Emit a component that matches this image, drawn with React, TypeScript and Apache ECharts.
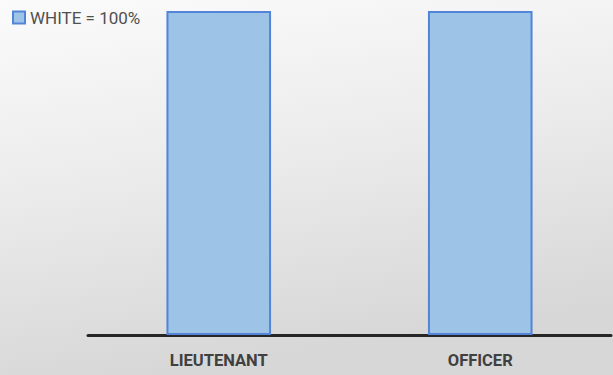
import React, { useEffect, useRef } from "react";
import * as echarts from "echarts";

const categories = ["LIEUTENANT", "OFFICER"];
const seriesName = "WHITE = 100%";
const values = [100, 100];

export default function App() {
  const ref = useRef<HTMLDivElement>(null);
  useEffect(() => {
    document.body.style.margin = "0";
    const chart = echarts.init(ref.current!, undefined, { renderer: "svg" });
    chart.setOption({
      animation: false,
      backgroundColor: {
        type: "linear",
        x: 0,
        y: 0,
        x2: 0.25,
        y2: 1,
        colorStops: [
          { offset: 0, color: "#fbfbfb" },
          { offset: 0.5, color: "#ebebeb" },
          { offset: 1, color: "#d7d7d7" },
        ],
      },
      legend: {
        left: 12,
        top: 9,
        padding: 0,
        itemWidth: 12,
        itemHeight: 12,
        itemGap: 10,
        data: [{ name: seriesName, icon: "rect" }],
        textStyle: {
          fontFamily: "Roboto, sans-serif",
          fontSize: 17,
          color: "#505050",
        },
      },
      grid: { left: 88, right: 2, top: 11, bottom: 40 },
      xAxis: {
        type: "category",
        data: categories,
        axisLine: { show: true, lineStyle: { color: "#262626", width: 3 } },
        axisTick: { show: false },
        axisLabel: {
          margin: 17,
          fontFamily: "Roboto, sans-serif",
          fontWeight: "bold",
          fontSize: 16.5,
          color: "#404040",
        },
      },
      yAxis: {
        type: "value",
        min: 0,
        max: 100,
        show: false,
        splitLine: { show: false },
      },
      series: [
        {
          name: seriesName,
          type: "bar",
          data: values,
          barWidth: "40%",
          itemStyle: {
            color: "#9dc3e6",
            borderColor: "#5285d8",
            borderWidth: 2,
          },
        },
      ],
    });
    return () => chart.dispose();
  }, []);
  return (
    <div
      ref={ref}
      style={{ position: "fixed", left: 0, top: 0, width: 613, height: 375 }}
    />
  );
}
